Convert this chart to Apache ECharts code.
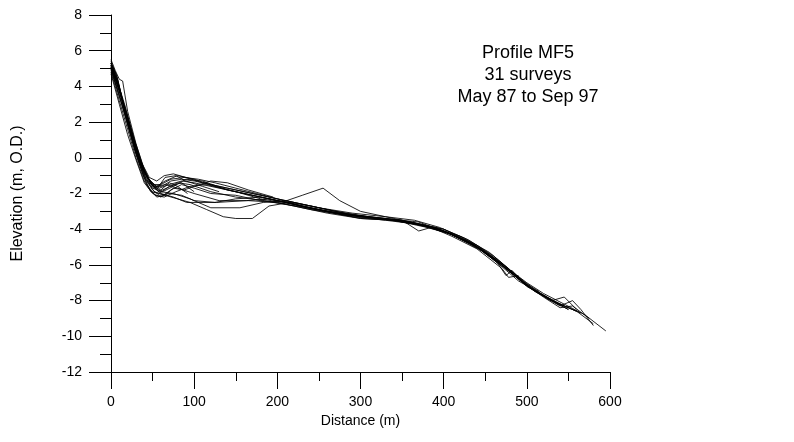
<!DOCTYPE html>
<html>
<head>
<meta charset="utf-8">
<script src="https://cdn.jsdelivr.net/npm/echarts@6/dist/echarts.min.js"></script>
<style>
  html, body { margin: 0; padding: 0; background: #fff; }
  #chart { width: 794px; height: 442px; }
</style>
</head>
<body>
<div id="chart"></div>
<script>
// profile surveys, [distance m, elevation m O.D.]
const survey01 = [[0,5.3],[8,4.2],[18,2.4],[28,0.8],[38,-0.6],[48,-1.4],[58,-1.7],[70,-1.5],[85,-1.3],[100,-1.4],[130,-1.7],[160,-2.0],[200,-2.4],[240,-2.8],[280,-3.2],[320,-3.4],[360,-3.6],[400,-4.1],[430,-4.7],[460,-5.6],[480,-6.3],[500,-7.0],[520,-7.6],[545,-8.2],[570,-8.8],[595,-9.7]];
const survey02 = [[0,5.1],[10,3.8],[20,2.1],[30,0.4],[40,-1.0],[50,-1.7],[62,-1.9],[75,-1.6],[90,-1.2],[110,-1.3],[140,-1.8],[180,-2.2],[220,-2.6],[260,-3.0],[300,-3.4],[340,-3.5],[380,-3.9],[410,-4.3],[440,-5.0],[465,-5.9],[475,-6.6],[482,-6.3],[500,-7.2],[525,-7.9],[540,-8.3],[555,-8.0],[565,-8.5],[580,-9.4]];
const survey03 = [[0,5.2],[12,3.5],[22,1.9],[32,0.2],[42,-1.2],[52,-1.9],[65,-2.1],[80,-2.3],[95,-2.5],[115,-2.9],[135,-3.3],[150,-3.4],[170,-3.4],[190,-2.7],[215,-2.5],[240,-2.7],[270,-3.0],[310,-3.3],[350,-3.5],[370,-4.1],[385,-3.9],[410,-4.4],[440,-5.1],[470,-6.2],[478,-6.7],[490,-6.6]];
const survey04 = [[0,5.0],[9,4.0],[19,2.5],[29,0.9],[39,-0.5],[49,-1.5],[60,-1.9],[75,-2.0],[95,-2.3],[120,-2.8],[155,-2.8],[183,-2.5],[210,-2.4],[250,-2.8],[290,-3.2],[330,-3.4],[370,-3.7],[400,-4.1],[440,-4.9],[470,-5.9],[495,-7.0],[520,-7.8],[540,-8.4],[555,-8.3],[575,-9.0]];
const survey05 = [[0,5.3],[7,4.6],[15,3.0],[25,1.2],[35,-0.3],[45,-1.2],[55,-1.6],[65,-1.3],[80,-1.0],[100,-1.2],[125,-1.6],[150,-1.9],[180,-2.3],[205,-2.5],[230,-2.1],[255,-1.7],[275,-2.4],[300,-3.0],[340,-3.4],[380,-3.8],[420,-4.4],[455,-5.4],[480,-6.4],[505,-7.3],[530,-8.0],[545,-7.8],[560,-8.5]];
const survey06 = [[0,4.8],[10,3.2],[20,1.6],[30,0.0],[40,-1.3],[48,-1.9],[58,-2.0],[70,-1.6],[85,-1.4],[100,-1.9]];
const survey07 = [[0,5.2],[8,4.3],[16,2.7],[26,1.0],[36,-0.4],[46,-1.4],[56,-1.7],[65,-1.1],[78,-1.0],[90,-1.3],[110,-1.6],[130,-1.9]];
const survey08 = [[0,5.4],[6,4.7],[14,3.2],[24,1.5],[34,0.0],[44,-1.1],[54,-1.6],[66,-1.5],[80,-1.7],[100,-2.0],[130,-2.4],[165,-2.4],[200,-2.5],[240,-2.9],[280,-3.2],[320,-3.4],[360,-3.6],[400,-4.0],[430,-4.6],[460,-5.5],[485,-6.5],[510,-7.4],[535,-8.1],[560,-8.6],[580,-9.3]];
const survey09 = [[0,5.0],[11,3.4],[21,1.7],[31,0.1],[41,-1.0],[51,-1.5],[60,-1.5],[72,-1.2],[88,-1.1],[105,-1.2],[125,-1.4],[150,-1.7],[175,-2.0],[200,-2.3],[235,-2.8],[270,-3.1],[310,-3.3],[350,-3.6],[390,-3.9],[420,-4.5],[450,-5.3],[475,-6.1],[500,-7.1]];
const survey10 = [[0,5.1],[10,3.7],[20,2.3],[30,0.6],[40,-0.8],[50,-1.6],[60,-2.0],[75,-2.2],[91,-2.5],[127,-2.5],[163,-2.4],[190,-2.3],[220,-2.6],[260,-3.0],[300,-3.3],[345,-3.5],[395,-4.0],[430,-4.7],[465,-5.8],[490,-6.8],[515,-7.5]];
const survey11 = [[0,5.3],[9,4.1],[17,2.9],[27,1.1],[37,-0.4],[47,-1.4],[57,-1.9],[67,-1.7],[80,-1.4],[95,-1.5],[120,-1.9],[150,-2.2],[185,-2.4],[220,-2.7],[260,-3.1],[300,-3.4],[340,-3.5],[375,-3.8],[410,-4.3],[445,-5.2],[470,-6.0],[500,-7.2],[530,-8.0],[550,-8.5]];
const survey12 = [[0,4.9],[13,3.0],[23,1.4],[33,-0.2],[43,-1.5],[53,-2.1],[64,-2.2],[78,-1.9],[95,-1.6],[115,-1.5],[140,-1.8],[170,-2.1],[200,-2.4],[245,-2.9],[290,-3.3],[330,-3.5],[365,-3.7],[405,-4.2],[440,-5.0],[468,-6.0],[480,-6.4],[505,-7.3],[535,-8.1],[565,-8.7]];
const survey13 = [[0,5.5],[5,4.9],[10,4.4],[14,4.3],[20,2.6],[30,0.8],[40,-0.7],[50,-1.6],[60,-1.8],[70,-1.4],[80,-1.6],[92,-2.0]];
const survey14 = [[0,5.0],[9,3.6],[18,2.2],[28,0.5],[38,-0.9],[47,-1.8],[55,-2.2],[65,-2.1],[75,-1.7],[88,-1.8],[100,-1.6],[120,-1.3],[140,-1.4],[165,-1.8],[195,-2.2]];
const survey15 = [[0,5.2],[10,3.9],[20,2.0],[30,0.3],[40,-1.1],[50,-1.8],[58,-2.1],[70,-2.0],[85,-2.1],[100,-2.4],[125,-2.5],[150,-2.3],[180,-2.2],[210,-2.5],[250,-2.9],[290,-3.2],[330,-3.4],[370,-3.6],[410,-4.3],[445,-5.1],[470,-6.1],[490,-6.9],[520,-7.7],[545,-8.3]];
const survey16 = [[0,5.3],[8,4.4],[16,2.8],[26,1.3],[36,-0.2],[46,-1.1],[55,-1.3],[64,-1.0],[75,-0.9],[90,-1.1],[110,-1.4],[140,-1.7],[170,-2.0],[200,-2.3],[240,-2.7],[280,-3.1],[320,-3.4],[360,-3.6],[400,-4.0],[435,-4.8],[462,-5.7],[485,-6.6],[510,-7.5],[540,-8.2],[560,-8.6]];
const survey17 = [[0,5.1],[11,3.6],[21,2.0],[31,0.3],[41,-0.9],[51,-1.6],[61,-1.6],[72,-1.3],[85,-1.2],[100,-1.3],[120,-1.5],[150,-1.8],[180,-2.1],[210,-2.4],[250,-2.8],[290,-3.1],[330,-3.3],[365,-3.5],[395,-3.9],[425,-4.5],[455,-5.3],[478,-6.2],[495,-6.9]];
const survey18 = [[0,4.7],[10,3.0],[20,1.3],[30,-0.1],[40,-1.4],[50,-2.0],[60,-2.2],[72,-1.8],[85,-1.5],[100,-1.7],[120,-2.0],[150,-2.1],[180,-2.4],[210,-2.6],[250,-2.9],[300,-3.3],[350,-3.5],[400,-4.1],[440,-5.0],[470,-6.0],[500,-7.1],[525,-7.9],[550,-8.5]];

const surveys = [survey01, survey02, survey03, survey04, survey05, survey06,
  survey07, survey08, survey09, survey10, survey11, survey12,
  survey13, survey14, survey15, survey16, survey17, survey18];

const titleLines = ['Profile MF5', '31 surveys', 'May 87 to Sep 97'];

const font = 'Liberation Sans, Arial, Helvetica, sans-serif';

const chart = echarts.init(document.getElementById('chart'));

chart.setOption({
  animation: false,
  backgroundColor: '#fff',
  title: {
    text: titleLines.join('\n'),
    left: 523,
    top: 37,
    padding: 5,
    textAlign: 'center',
    textStyle: {
      fontFamily: font,
      fontSize: 18,
      fontWeight: 'normal',
      color: '#000',
      lineHeight: 22,
      align: 'center'
    }
  },
  grid: { left: 111, right: 184, top: 15, bottom: 70 },
  xAxis: {
    type: 'value',
    min: 0, max: 600, interval: 100,
    name: 'Distance (m)',
    nameLocation: 'middle',
    nameGap: 41,
    nameTextStyle: { fontFamily: font, fontSize: 14, color: '#000' },
    axisLine: { onZero: false, lineStyle: { color: '#000', width: 1 } },
    axisTick: { length: 17, lineStyle: { color: '#000' } },
    minorTick: { show: true, splitNumber: 2, length: 9, lineStyle: { color: '#000' } },
    axisLabel: { fontFamily: font, fontSize: 14, color: '#000', margin: 23 },
    splitLine: { show: false }
  },
  yAxis: {
    type: 'value',
    min: -12, max: 8, interval: 2,
    name: 'Elevation (m, O.D.)',
    nameLocation: 'middle',
    nameGap: 85,
    nameTextStyle: { fontFamily: font, fontSize: 16, color: '#000' },
    axisLine: { onZero: false, lineStyle: { color: '#000', width: 1 } },
    axisTick: { length: 22, lineStyle: { color: '#000' } },
    minorTick: { show: true, splitNumber: 2, length: 11, lineStyle: { color: '#000' } },
    axisLabel: { fontFamily: font, fontSize: 14, color: '#000', margin: 29 },
    splitLine: { show: false }
  },
  series: surveys.map((d, i) => ({
    name: 'survey ' + (i + 1),
    type: 'line',
    data: d,
    showSymbol: false,
    symbol: 'none',
    lineStyle: { color: '#000', width: 1, opacity: 0.85 },
    silent: true
  }))
});
</script>
</body>
</html>
